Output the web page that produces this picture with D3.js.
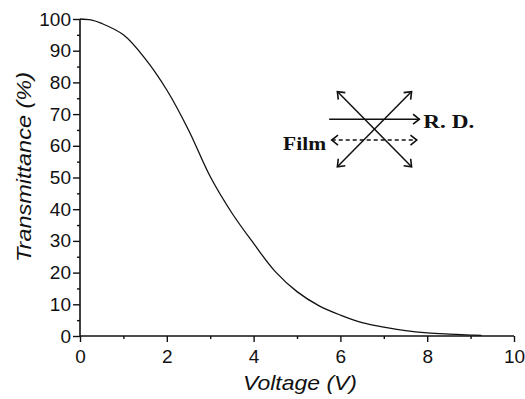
<!DOCTYPE html>
<html><head><meta charset="utf-8">
<script src="https://cdn.jsdelivr.net/npm/d3@7"></script>
<style>html,body{margin:0;padding:0;background:#fff}</style>
</head><body>
<svg id="chart" width="525" height="399"></svg>
<script>
// Data
const voltage = [0, 0.25, 0.5, 1.0, 1.5, 2.0, 2.5, 3.0, 3.5, 4.0, 4.5, 5.0, 5.5, 6.0, 6.5, 7.0, 7.5, 8.0, 8.5, 9.0, 9.25];
const transmittance = [100, 99.7, 98.6, 95, 87.5, 77.6, 65, 50.3, 38.8, 29.2, 20.3, 14, 9.6, 6.6, 4.2, 2.8, 1.7, 1.0, 0.6, 0.3, 0.2];
const xMajorTicks = [0, 2, 4, 6, 8, 10];
const xMinorTicks = [1, 3, 5, 7, 9];
const yMajorTicks = [0, 10, 20, 30, 40, 50, 60, 70, 80, 90, 100];
const yMinorTicks = [5, 15, 25, 35, 45, 55, 65, 75, 85, 95];
const xTitle = "Voltage (V)";
const yTitle = "Transmittance (%)";
// Inset polarisation diagram (in data units)
const diagArrows = [
  {x1: 5.93, y1: 77.1, x2: 7.64, y2: 53.4, start: true, end: true, dashed: false},
  {x1: 5.93, y1: 53.4, x2: 7.64, y2: 77.1, start: true, end: true, dashed: false},
  {x1: 5.74, y1: 68.4, x2: 7.82, y2: 68.4, start: false, end: true, dashed: false},
  {x1: 5.80, y1: 61.8, x2: 7.76, y2: 61.8, start: true, end: true, dashed: true}
];
const diagLabels = [
  {text: "R. D.", x: 7.91, y: 65.5, anchor: "start", len: 51},
  {text: "Film", x: 5.67, y: 58.6, anchor: "end", len: 43}
];

const svg = d3.select("#chart");
const x = d3.scaleLinear().domain([0, 10]).range([80, 514]);
const y = d3.scaleLinear().domain([0, 100]).range([336, 19]);
const ink = "#111";
const tickFont = "Liberation Sans, Arial, sans-serif";

// X axis
const gx = svg.append("g").attr("transform", `translate(0,${y(0)})`);
gx.call(d3.axisBottom(x).tickValues(xMajorTicks).tickSize(6).tickPadding(8).tickFormat(d3.format("d")));
gx.append("g").call(d3.axisBottom(x).tickValues(xMinorTicks).tickSize(3).tickFormat(""));
gx.selectAll(".domain").filter((d,i)=>i>0).remove();
gx.select(".domain").attr("d", `M${x(0)},0H${x(10)}`);

// Y axis
const gy = svg.append("g").attr("transform", `translate(${x(0)},0)`);
gy.call(d3.axisLeft(y).tickValues(yMajorTicks).tickSize(7).tickPadding(2).tickFormat(d3.format("d")));
gy.append("g").call(d3.axisLeft(y).tickValues(yMinorTicks).tickSize(3).tickFormat(""));
gy.selectAll(".domain").filter((d,i)=>i>0).remove();
gy.select(".domain").attr("d", `M0,${y(0)}V${y(100)}`);

svg.selectAll(".domain").attr("stroke", ink).attr("stroke-width", 1.6);
svg.selectAll(".tick line").attr("stroke", ink).attr("stroke-width", 1.4);
svg.selectAll(".tick text").attr("font-family", tickFont).attr("font-size", 19).attr("fill", ink);

// Axis titles
svg.append("text").attr("x", (x(0)+x(10))/2 + 3).attr("y", 390)
  .attr("text-anchor", "middle").attr("font-family", tickFont).attr("font-style", "italic")
  .attr("font-size", 21).attr("textLength", 114).attr("lengthAdjust", "spacingAndGlyphs")
  .attr("fill", ink).text(xTitle);
svg.append("text").attr("transform", `translate(31,167) rotate(-90)`)
  .attr("text-anchor", "middle").attr("font-family", tickFont).attr("font-style", "italic")
  .attr("font-size", 21).attr("textLength", 190).attr("lengthAdjust", "spacingAndGlyphs")
  .attr("fill", ink).text(yTitle);

// Curve
const pts = voltage.map((v,i)=>[v, transmittance[i]]);
svg.append("path").datum(pts)
  .attr("d", d3.line().x(d=>x(d[0])).y(d=>y(d[1])).curve(d3.curveCatmullRom.alpha(0.5)))
  .attr("fill", "none").attr("stroke", ink).attr("stroke-width", 1.3);

// Inset diagram
const dg = svg.append("g");
function chevron(px, py, dx, dy) {
  const len = Math.hypot(dx, dy), ux = dx/len, uy = dy/len;
  const L = 8, a = 38 * Math.PI/180;
  const p = [];
  for (const s of [-1, 1]) {
    const c = Math.cos(a), sn = Math.sin(a) * s;
    const rx = -(ux*c - uy*sn), ry = -(ux*sn + uy*c);
    p.push([px + rx*L, py + ry*L]);
  }
  return `M${p[0][0]},${p[0][1]}L${px},${py}L${p[1][0]},${p[1][1]}`;
}
diagArrows.forEach(a => {
  const X1 = x(a.x1), Y1 = y(a.y1), X2 = x(a.x2), Y2 = y(a.y2);
  dg.append("line").attr("x1", X1).attr("y1", Y1).attr("x2", X2).attr("y2", Y2)
    .attr("stroke", ink).attr("stroke-width", 1.5)
    .attr("stroke-dasharray", a.dashed ? "4,3" : null);
  if (a.end) dg.append("path").attr("d", chevron(X2, Y2, X2-X1, Y2-Y1))
    .attr("fill", "none").attr("stroke", ink).attr("stroke-width", 1.6);
  if (a.start) dg.append("path").attr("d", chevron(X1, Y1, X1-X2, Y1-Y2))
    .attr("fill", "none").attr("stroke", ink).attr("stroke-width", 1.6);
});
diagLabels.forEach(l => {
  dg.append("text").attr("x", x(l.x)).attr("y", y(l.y))
    .attr("text-anchor", l.anchor).attr("font-family", "Liberation Serif, Times New Roman, serif")
    .attr("font-weight", "bold").attr("font-size", 19)
    .attr("textLength", l.len).attr("lengthAdjust", "spacingAndGlyphs")
    .attr("fill", ink).text(l.text);
});
</script>
</body></html>
